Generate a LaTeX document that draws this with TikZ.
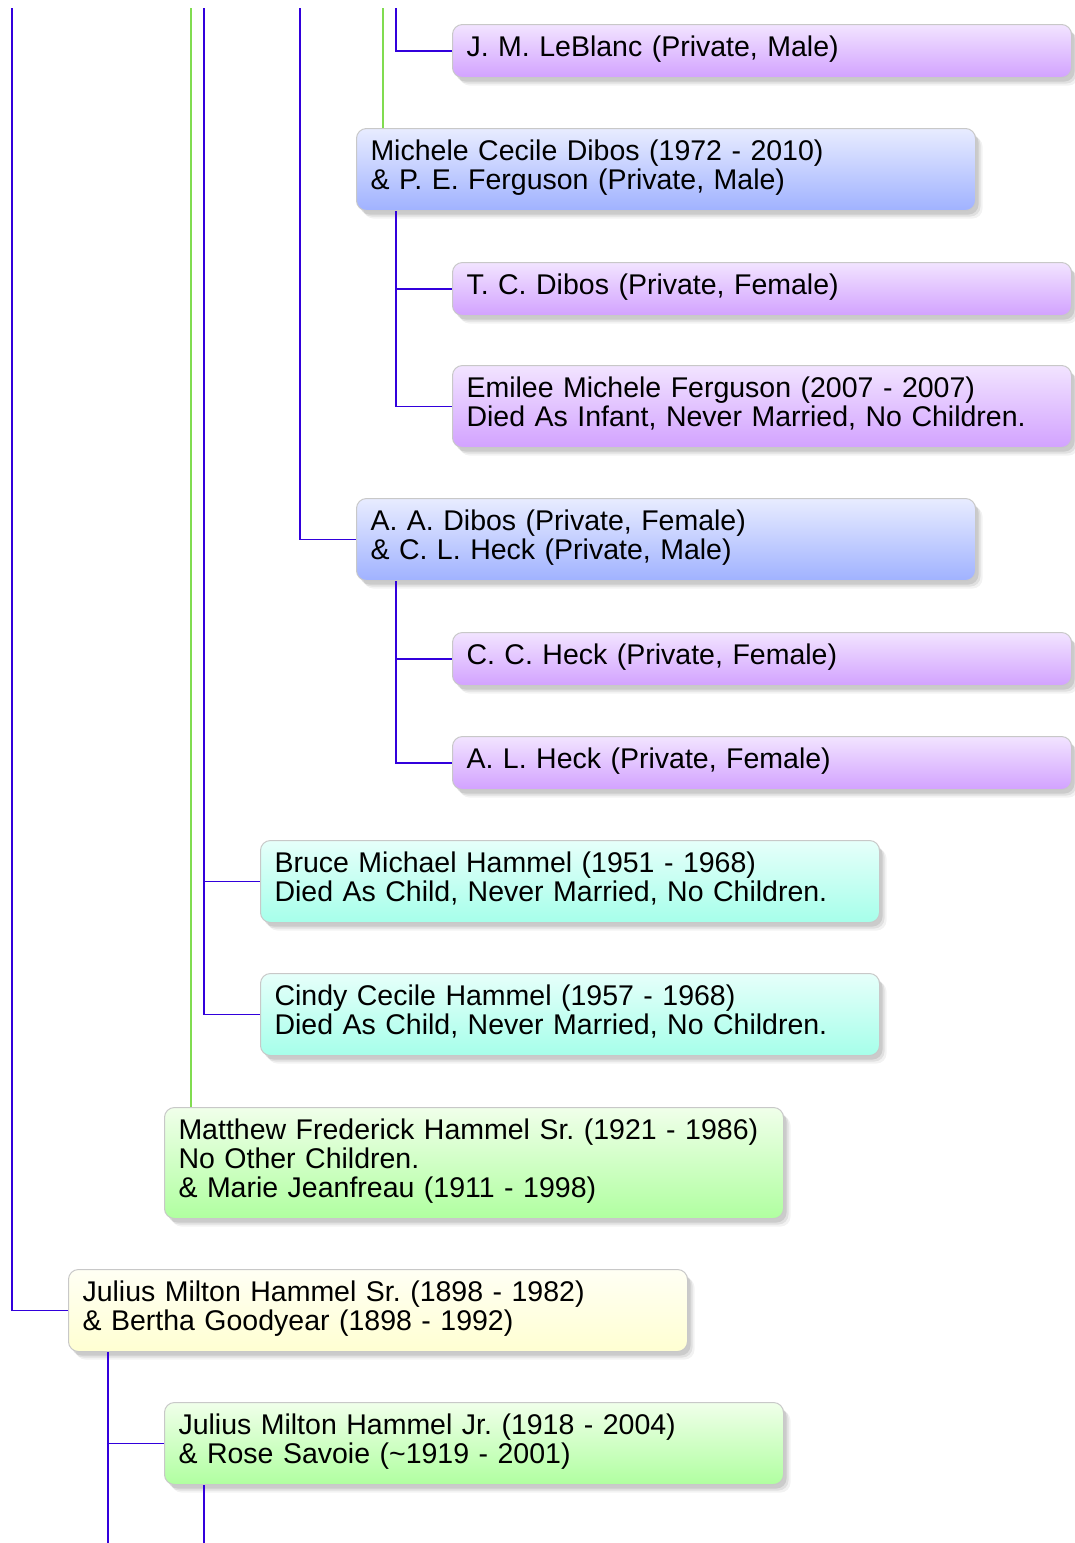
\documentclass[tikz,border=0pt]{standalone}
\usepackage{fontspec}
\setmainfont{Liberation Sans}
\usepackage{tikz}
\usetikzlibrary{shadows}

\definecolor{blueline}{RGB}{50,0,220}
\definecolor{greenline}{RGB}{128,220,80}
\definecolor{boxline}{RGB}{200,200,200}

\tikzset{
  person/.style={rounded corners=10pt, draw=boxline, line width=1pt,
    anchor=north west, inner xsep=14pt, inner ysep=0pt,
    text width=591pt, align=left, text height=32pt,
    font=\fontsize{28.5pt}{29pt}\selectfont\frenchspacing,
    drop shadow={shadow xshift=7pt, shadow yshift=-8pt, opacity=.05, fill=black, draw=none},
    drop shadow={shadow xshift=5pt, shadow yshift=-6pt, opacity=.07, fill=black, draw=none},
    drop shadow={shadow xshift=3pt, shadow yshift=-4pt, opacity=.09, fill=black, draw=none}},
  oneline/.style={text depth=21pt},
  twolines/.style={text depth=50pt},
  threelines/.style={text depth=79pt},
  purplebox/.style={person, top color={rgb,255:red,242;green,228;blue,255}, bottom color={rgb,255:red,210;green,162;blue,255}},
  bluebox/.style={person, top color={rgb,255:red,232;green,236;blue,255}, bottom color={rgb,255:red,160;green,178;blue,255}},
  cyanbox/.style={person, top color={rgb,255:red,230;green,255;blue,250}, bottom color={rgb,255:red,166;green,255;blue,234}},
  greenbox/.style={person, top color={rgb,255:red,240;green,255;blue,234}, bottom color={rgb,255:red,176;green,255;blue,160}},
  yellowbox/.style={person, top color={rgb,255:red,255;green,255;blue,244}, bottom color={rgb,255:red,255;green,255;blue,210}},
  bline/.style={blueline, line width=1.5pt},
  gline/.style={greenline, line width=1.5pt}
}

\begin{document}
\begin{tikzpicture}[x=1pt, y=-1pt]

\useasboundingbox[fill=white] (0,0) rectangle (1075,1543);

% people
\node[purplebox, oneline] (jml) at (452,24) {J. M. LeBlanc (Private, Male)};
\node[bluebox, twolines] (mcd) at (356,128) {Michele Cecile Dibos (1972 - 2010)\\\& P. E. Ferguson (Private, Male)};
\node[purplebox, oneline] (tcd) at (452,262) {T. C. Dibos (Private, Female)};
\node[purplebox, twolines] (emf) at (452,365) {Emilee Michele Ferguson (2007 - 2007)\\Died As Infant, Never Married, No Children.};
\node[bluebox, twolines] (aad) at (356,498) {A. A. Dibos (Private, Female)\\\& C. L. Heck (Private, Male)};
\node[purplebox, oneline] (cch) at (452,632) {C. C. Heck (Private, Female)};
\node[purplebox, oneline] (alh) at (452,736) {A. L. Heck (Private, Female)};
\node[cyanbox, twolines] (bmh) at (260,840) {Bruce Michael Hammel (1951 - 1968)\\Died As Child, Never Married, No Children.};
\node[cyanbox, twolines] (cyh) at (260,973) {Cindy Cecile Hammel (1957 - 1968)\\Died As Child, Never Married, No Children.};
\node[greenbox, threelines] (mfh) at (164,1107) {Matthew Frederick Hammel Sr. (1921 - 1986)\\No Other Children.\\\& Marie Jeanfreau (1911 - 1998)};
\node[yellowbox, twolines] (jsr) at (68,1269) {Julius Milton Hammel Sr. (1898 - 1982)\\\& Bertha Goodyear (1898 - 1992)};
\node[greenbox, twolines] (jjr) at (164,1402) {Julius Milton Hammel Jr. (1918 - 2004)\\\& Rose Savoie (\textasciitilde1919 - 2001)};

% lines coming in from above
\coordinate (jsrtop) at (12,8);
\coordinate (mfhtop) at (191,8);
\coordinate (mfhkids) at (204,8);
\coordinate (aadtop) at (300,8);
\coordinate (mcdtop) at (383,8);
\coordinate (jmltop) at (396,8);
\coordinate (bottom) at (0,1543);

\draw[bline] (jsrtop) |- (jsr.west);
\draw[gline] (mfhtop) -- (mfhtop |- mfh.north);
\draw[bline] (mfhkids) |- (bmh.west);
\draw[bline] (mfhkids) |- (cyh.west);
\draw[bline] (aadtop) |- (aad.west);
\draw[gline] (mcdtop) -- (mcdtop |- mcd.north);
\draw[bline] (jmltop) |- (jml.west);

% children
\coordinate (mcdkids) at ([xshift=40pt]mcd.south west);
\draw[bline] (mcdkids) |- (tcd.west);
\draw[bline] (mcdkids) |- (emf.west);
\coordinate (aadkids) at ([xshift=40pt]aad.south west);
\draw[bline] (aadkids) |- (cch.west);
\draw[bline] (aadkids) |- (alh.west);
\coordinate (jsrkids) at ([xshift=40pt]jsr.south west);
\draw[bline] (jsrkids) -- (jsrkids |- bottom);
\draw[bline] (jsrkids) |- (jjr.west);
\coordinate (jjrkids) at ([xshift=40pt]jjr.south west);
\draw[bline] (jjrkids) -- (jjrkids |- bottom);

\end{tikzpicture}
\end{document}
